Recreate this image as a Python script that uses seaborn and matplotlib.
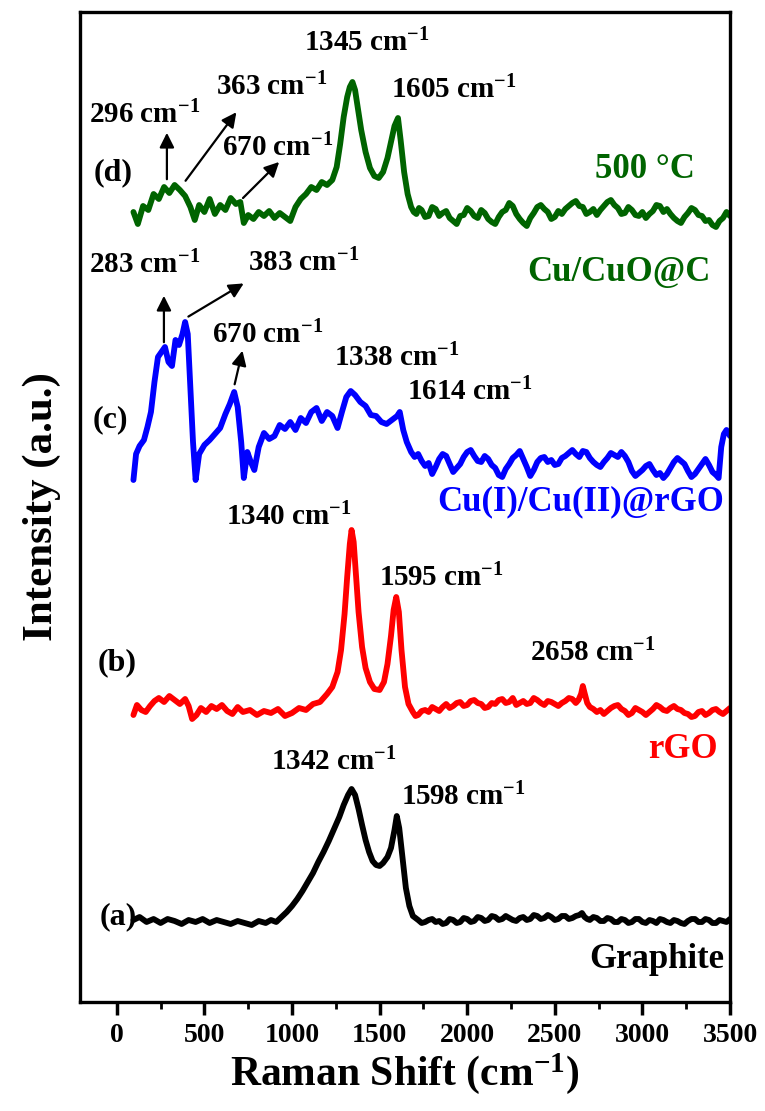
import numpy as np
import pandas as pd
import matplotlib
matplotlib.use('Agg')
import matplotlib.pyplot as plt
import seaborn as sns

# Raman spectra (intensity in a.u., traces already offset)
# (d) Cu/CuO@C, 500 °C
shift_d = [95, 120, 150, 180, 210, 240, 270, 300, 330, 360, 390, 420, 445, 470, 500, 530,
           560, 590, 620, 650, 680, 705, 725, 750, 780, 810, 840, 870, 900, 930, 960, 990,
           1020, 1050, 1080, 1110, 1140, 1170, 1200, 1230, 1255, 1275, 1295, 1315, 1330, 1345,
           1360, 1375, 1395, 1420, 1445, 1470, 1495, 1520, 1545, 1565, 1585, 1605, 1620, 1640,
           1660, 1680, 1695, 1710, 1725, 1740, 1760, 1780, 1800, 1820, 1840, 1860, 1880, 1900,
           1920, 1940, 1960, 1980, 2000, 2020, 2040, 2060, 2080, 2100, 2120, 2140, 2160, 2180,
           2200, 2220, 2240, 2260, 2280, 2300, 2320, 2340, 2360, 2380, 2400, 2420, 2440, 2460,
           2480, 2500, 2520, 2540, 2560, 2580, 2600, 2620, 2640, 2660, 2680, 2700, 2720, 2740,
           2760, 2780, 2800, 2820, 2840, 2860, 2880, 2900, 2920, 2940, 2960, 2980, 3000, 3020,
           3040, 3060, 3080, 3100, 3120, 3140, 3160, 3180, 3200, 3220, 3240, 3260, 3280, 3300,
           3320, 3340, 3360, 3380, 3400, 3420, 3440, 3460, 3480, 3500]
int_d = [790, 778, 796, 792, 808, 803, 815, 809, 817, 812, 806, 795, 782, 797, 790, 803,
         788, 797, 792, 804, 798, 800, 779, 787, 783, 790, 786, 791, 784, 789, 785, 781,
         795, 803, 808, 815, 812, 820, 817, 822, 835, 858, 885, 905, 915, 920,
         912, 895, 872, 850, 834, 826, 824, 830, 844, 860, 876, 884, 862, 830,
         808, 795, 790, 788, 794, 792, 785, 786, 795, 793, 786, 789, 791, 784,
         781, 778, 786, 787, 794, 791, 786, 784, 792, 789, 783, 780, 778, 785,
         790, 792, 799, 796, 788, 783, 779, 776, 784, 789, 795, 797, 793, 790,
         783, 785, 791, 788, 793, 796, 799, 801, 796, 795, 788, 790, 793, 787,
         792, 796, 800, 802, 797, 794, 788, 789, 795, 792, 787, 786, 790, 784,
         788, 791, 797, 796, 790, 793, 788, 784, 781, 779, 785, 789, 794, 792,
         787, 786, 781, 782, 777, 775, 781, 784, 790, 786]

# (c) Cu(I)/Cu(II)@rGO
shift_c = [95, 110, 130, 155, 175, 195, 215, 235, 255, 275, 295, 315, 335, 355, 375, 390,
           405, 420, 435, 450, 470, 500, 530, 560, 590, 620, 645, 670, 690, 710, 725, 745,
           765, 785, 810, 840, 870, 900, 930, 960, 990, 1020, 1050, 1080, 1110, 1140, 1170,
           1200, 1230, 1260, 1285, 1310, 1335, 1360, 1390, 1420, 1450, 1480, 1510, 1540, 1570,
           1600, 1615, 1635, 1655, 1680, 1700, 1720, 1740, 1760, 1780, 1800, 1820, 1840, 1860,
           1880, 1900, 1920, 1940, 1960, 1980, 2000, 2020, 2040, 2060, 2080, 2100, 2120, 2140,
           2160, 2180, 2200, 2220, 2240, 2260, 2280, 2300, 2320, 2340, 2360, 2380, 2400, 2420,
           2440, 2460, 2480, 2500, 2520, 2540, 2560, 2580, 2600, 2620, 2640, 2660, 2680, 2700,
           2720, 2740, 2760, 2780, 2800, 2820, 2840, 2860, 2880, 2900, 2920, 2940, 2960, 2980,
           3000, 3020, 3040, 3060, 3080, 3100, 3120, 3140, 3160, 3180, 3200, 3220, 3240, 3260,
           3280, 3300, 3320, 3340, 3360, 3380, 3400, 3420, 3435, 3450, 3465, 3480, 3500]
int_c = [522, 548, 556, 562, 575, 590, 620, 645, 650, 655, 640, 636, 662, 657, 668, 680,
         668, 615, 560, 522, 548, 557, 562, 568, 574, 588, 598, 610, 595, 560, 524, 550,
         540, 532, 555, 569, 563, 566, 577, 573, 580, 572, 584, 579, 590, 594, 581,
         590, 586, 574, 590, 605, 611, 607, 600, 596, 587, 586, 580, 578, 582,
         586, 590, 572, 560, 550, 545, 548, 541, 536, 539, 528, 535, 543, 548,
         546, 538, 530, 534, 538, 545, 550, 552, 546, 541, 540, 546, 543, 537,
         534, 527, 525, 533, 538, 544, 547, 551, 543, 535, 526, 532, 540, 544,
         545, 540, 542, 537, 538, 544, 546, 549, 552, 548, 545, 551, 550, 544,
         540, 537, 535, 540, 544, 549, 547, 545, 550, 546, 540, 531, 526, 529,
         532, 536, 538, 532, 527, 529, 524, 528, 534, 540, 544, 541, 538, 531,
         525, 528, 533, 538, 543, 537, 530, 527, 524, 555, 568, 572, 566]

# (b) rGO
shift_b = [95, 115, 140, 165, 190, 215, 240, 270, 300, 330, 360, 390, 410, 430, 455, 480,
           510, 540, 570, 600, 630, 660, 690, 720, 760, 800, 840, 880, 920, 960, 1000, 1040,
           1080, 1120, 1160, 1200, 1230, 1260, 1280, 1300, 1315, 1330, 1340, 1352, 1365, 1380,
           1400, 1420, 1445, 1470, 1500, 1525, 1545, 1565, 1580, 1595, 1610, 1625, 1645, 1665,
           1690, 1705, 1720, 1740, 1760, 1780, 1800, 1820, 1840, 1860, 1880, 1900, 1920, 1940,
           1960, 1980, 2000, 2020, 2040, 2060, 2080, 2100, 2120, 2140, 2160, 2180, 2200, 2220,
           2240, 2260, 2280, 2300, 2320, 2340, 2360, 2380, 2400, 2420, 2440, 2460, 2480, 2500,
           2520, 2540, 2560, 2580, 2600, 2620, 2635, 2650, 2660, 2670, 2685, 2700, 2720, 2740,
           2760, 2780, 2800, 2820, 2840, 2860, 2880, 2900, 2920, 2940, 2960, 2980, 3000, 3020,
           3040, 3060, 3080, 3100, 3120, 3140, 3160, 3180, 3200, 3220, 3240, 3260, 3280, 3300,
           3320, 3340, 3360, 3380, 3400, 3420, 3440, 3460, 3480, 3500]
int_b = [287, 297, 292, 290, 296, 301, 304, 300, 306, 302, 298, 303, 296, 283, 287, 294,
         290, 296, 293, 297, 291, 288, 295, 290, 292, 287, 291, 289, 293, 286, 289, 294,
         292, 298, 300, 308, 315, 330, 352, 388, 425, 458, 472, 460, 428, 390,
         355, 334, 320, 313, 312, 320, 338, 366, 392, 405, 390, 352, 315, 298,
         290, 286, 287, 291, 292, 290, 295, 293, 291, 295, 298, 294, 296, 299,
         300, 296, 297, 301, 302, 299, 298, 294, 295, 299, 298, 302, 303, 299,
         300, 304, 297, 299, 301, 298, 299, 304, 302, 299, 297, 301, 300, 298,
         296, 299, 301, 304, 303, 299, 302, 308, 316, 309, 299, 295, 293, 290,
         292, 288, 291, 294, 296, 297, 293, 291, 287, 289, 294, 292, 290, 287,
         290, 293, 297, 295, 292, 291, 294, 296, 293, 292, 289, 288, 285, 286,
         290, 291, 287, 289, 292, 293, 290, 288, 291, 294]

# (a) Graphite
shift_a = [95, 130, 170, 210, 250, 290, 330, 370, 410, 450, 490, 530, 570, 610, 650, 690,
           730, 770, 810, 850, 880, 910, 940, 970, 1000, 1030, 1060, 1090, 1120, 1150, 1180,
           1210, 1240, 1270, 1295, 1320, 1340, 1360, 1380, 1400, 1420, 1440, 1460, 1480, 1500,
           1520, 1545, 1565, 1585, 1598, 1612, 1630, 1650, 1670, 1690, 1720, 1740, 1760, 1780,
           1800, 1820, 1840, 1860, 1880, 1900, 1920, 1940, 1960, 1980, 2000, 2020, 2040, 2060,
           2080, 2100, 2120, 2140, 2160, 2180, 2200, 2220, 2240, 2260, 2280, 2300, 2320, 2340,
           2360, 2380, 2400, 2420, 2440, 2460, 2480, 2500, 2520, 2540, 2560, 2580, 2600, 2620,
           2640, 2655, 2670, 2685, 2700, 2720, 2740, 2760, 2780, 2800, 2820, 2840, 2860, 2880,
           2900, 2920, 2940, 2960, 2980, 3000, 3020, 3040, 3060, 3080, 3100, 3120, 3140, 3160,
           3180, 3200, 3220, 3240, 3260, 3280, 3300, 3320, 3340, 3360, 3380, 3400, 3420, 3440,
           3460, 3480, 3500]
int_a = [82, 85, 80, 83, 79, 83, 81, 78, 82, 80, 83, 79, 82, 80, 78, 81,
         79, 77, 81, 79, 82, 80, 85, 90, 96, 103, 111, 120, 129, 140, 150,
         161, 173, 185, 197, 207, 213, 207, 193, 177, 162, 150, 141, 137, 136,
         139, 145, 154, 172, 186, 174, 146, 114, 96, 86, 82, 79, 80, 82,
         83, 80, 81, 78, 79, 83, 82, 79, 80, 84, 83, 80, 81, 85,
         84, 81, 82, 86, 85, 82, 83, 86, 84, 82, 81, 84, 85, 82,
         83, 87, 86, 83, 84, 87, 85, 82, 83, 86, 86, 83, 84, 86,
         87, 89, 85, 83, 82, 85, 84, 81, 81, 84, 83, 80, 80, 83,
         82, 79, 80, 83, 83, 80, 79, 82, 81, 79, 83, 82, 80, 79,
         82, 81, 79, 78, 81, 83, 83, 80, 80, 83, 82, 79, 79, 82,
         81, 80, 83]

traces = [
    (shift_a, int_a, 'black'),
    (shift_b, int_b, '#ff0000'),
    (shift_c, int_c, '#0000ff'),
    (shift_d, int_d, '#006400'),
]

# peak labels: (text, x, y)
peak_labels = [
    ('1345 cm$^{-1}$', 1430, 959), ('1605 cm$^{-1}$', 1922, 912),
    ('363 cm$^{-1}$', 881, 915), ('296 cm$^{-1}$', 160, 887), ('670 cm$^{-1}$', 915, 854),
    ('283 cm$^{-1}$', 160, 737), ('383 cm$^{-1}$', 1064, 739), ('670 cm$^{-1}$', 858, 667),
    ('1338 cm$^{-1}$', 1601, 644), ('1614 cm$^{-1}$', 2013, 610),
    ('1340 cm$^{-1}$', 983, 485), ('1595 cm$^{-1}$', 1853, 424), ('2658 cm$^{-1}$', 2717, 349),
    ('1342 cm$^{-1}$', 1240, 240), ('1598 cm$^{-1}$', 1979, 205),
]
# arrows: (tail x, tail y, head x, head y)
arrows = [
    (286, 820, 286, 872), (383, 819, 692, 892), (709, 802, 938, 842),
    (269, 657, 269, 709), (395, 684, 738, 720), (669, 615, 721, 654),
]
# panel letters: (text, x, y)
tags = [('(d)', -23, 829), ('(c)', -34, 582), ('(b)', 0, 339), ('(a)', 11, 85)]
# sample names: (text, right edge x, y, colour)
names = [
    ('500 °C', 3300, 832, '#006400'), ('Cu/CuO@C', 3390, 730, '#006400'),
    ('Cu(I)/Cu(II)@rGO', 3466, 500, '#0000ff'), ('rGO', 3430, 252, '#ff0000'),
    ('Graphite', 3470, 42, 'black'),
]

sns.set_theme(style='white')
plt.rcParams['font.family'] = ['Liberation Serif', 'DejaVu Serif']
plt.rcParams['font.weight'] = 'bold'
plt.rcParams['text.color'] = 'black'
plt.rcParams['axes.labelcolor'] = 'black'
plt.rcParams['xtick.color'] = 'black'
plt.rcParams['mathtext.fontset'] = 'custom'
plt.rcParams['mathtext.rm'] = 'Liberation Serif:bold'
plt.rcParams['mathtext.it'] = 'Liberation Serif:bold'
plt.rcParams['mathtext.bf'] = 'Liberation Serif:bold'
plt.rcParams['mathtext.default'] = 'rm'

fig = plt.figure(figsize=(7.65, 11.11), dpi=100)
ax = fig.add_axes([80 / 765, 109 / 1111, 650 / 765, 990 / 1111])

for sx, iy, col in traces:
    df = pd.DataFrame({'shift': sx, 'intensity': iy})
    sns.lineplot(data=df, x='shift', y='intensity', ax=ax, color=col, lw=4.2,
                 sort=False, estimator=None)

for s, x, y in peak_labels:
    ax.text(x, y, s, ha='center', va='center', fontsize=21, fontweight='bold', color='black')

for x0, y0, x1, y1 in arrows:
    ax.annotate('', xy=(x1, y1), xytext=(x0, y0),
                arrowprops=dict(arrowstyle='-|>', color='black', lw=1.6, mutation_scale=22))

for s, x, y in tags:
    ax.text(x, y, s, ha='center', va='center', fontsize=23, fontweight='bold', color='black')
for s, x, y, col in names:
    ax.text(x, y, s, ha='right', va='center', fontsize=25, fontweight='bold', color=col)

ax.set_xlim(-210, 3500)
ax.set_ylim(0, 990)
ax.set_xticks(np.arange(0, 3501, 500))
ax.set_xticks(np.arange(250, 3500, 500), minor=True)
ax.set_yticks([])
ax.tick_params(axis='x', which='major', direction='out', length=9, width=2.5,
               labelsize=20, bottom=True, pad=6)
ax.tick_params(axis='x', which='minor', direction='out', length=5, width=2, bottom=True)
for lab in ax.get_xticklabels():
    lab.set_fontweight('bold')
for sp in ax.spines.values():
    sp.set_linewidth(2.4)
    sp.set_color('black')

ax.set_xlabel('Raman Shift (cm$^{-1}$)', fontsize=30, fontweight='bold', labelpad=2)
ax.set_ylabel('Intensity (a.u.)', fontsize=31, fontweight='bold', labelpad=14)

fig.savefig('out.png', dpi=100)
